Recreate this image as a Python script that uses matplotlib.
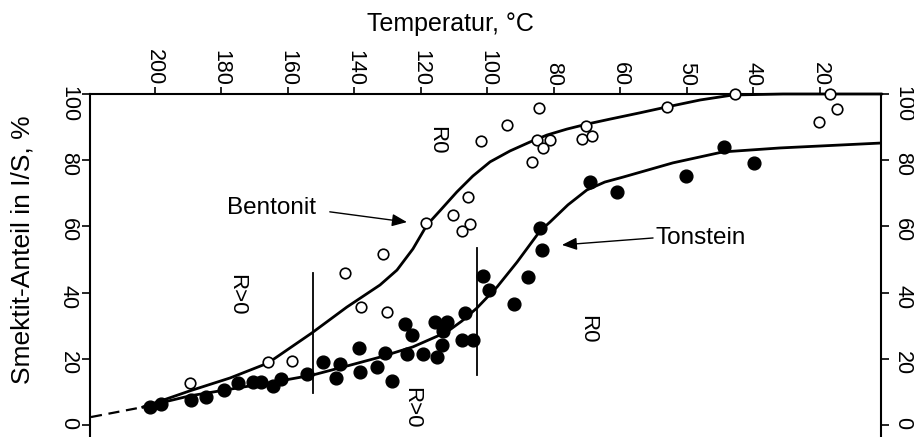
import numpy as np
import matplotlib
matplotlib.use("Agg")
import matplotlib.pyplot as plt
from matplotlib.scale import FuncScale

plt.rcParams['font.family'] = ['Liberation Sans', 'DejaVu Sans']

# Temperature axis: the labelled ticks are equally spaced (non-linear scale)
temp_ticks = [200, 180, 160, 140, 120, 100, 80, 60, 50, 40, 20]
pct_ticks = [0, 20, 40, 60, 80, 100]

# Bentonit (open circles): temperature in °C, smectite fraction in %
bent_temp = [189.5, 166.0, 158.8, 142.9, 138.0, 131.4, 130.2, 118.5, 110.4, 105.9,
             105.3, 107.7, 102.0, 94.1, 84.5, 86.6, 85.1, 81.2, 83.3, 70.4,
             71.6, 68.6, 53.0, 42.8, 17.0, 14.9, 20.3]
bent_pct = [12.7, 19.0, 19.3, 45.9, 35.6, 51.7, 34.1, 61.0, 63.4, 68.9,
            60.7, 58.6, 85.8, 90.6, 95.8, 79.5, 86.1, 86.1, 83.7, 90.3,
            86.4, 87.3, 96.1, 100.0, 100.0, 95.5, 91.5]

# Tonstein (filled circles)
ton_temp = [201.5, 198.2, 189.2, 184.7, 179.2, 175.0, 170.5, 168.1, 164.5, 162.1,
            154.3, 149.5, 145.6, 144.4, 138.3, 138.6, 133.2, 130.8, 128.7, 124.8,
            122.7, 124.2, 119.4, 115.8, 112.2, 113.4, 113.7, 115.2, 106.8, 107.7,
            104.4, 101.4, 99.5, 92.0, 87.8, 83.6, 84.2, 69.2, 61.1, 50.2,
            44.4, 39.8]
ton_pct = [5.4, 6.3, 7.6, 8.5, 10.6, 12.7, 13.0, 13.0, 11.8, 13.9,
           15.4, 19.0, 14.2, 18.4, 16.0, 23.3, 17.5, 21.8, 13.3, 30.5,
           27.2, 21.5, 21.5, 31.1, 31.1, 28.4, 24.2, 20.5, 33.8, 25.7,
           25.7, 45.0, 40.8, 36.6, 44.7, 52.9, 59.5, 73.4, 70.4, 75.2,
           84.0, 79.2]

# Fitted trend curves
bent_fit_temp = [203.6, 189.5, 177.4, 166.0, 152.8, 142.3, 132.3, 127.2, 122.4, 118.2,
                 114.3, 109.2, 104.4, 99.2, 93.2, 87.2, 82.1, 76.1, 70.1, 63.2,
                 57.1, 53.0, 48.0, 43.1, 31.1, 1.35]
bent_fit_pct = [5.4, 10.3, 14.2, 18.7, 27.8, 35.6, 42.3, 46.8, 53.2, 60.4,
                64.7, 70.4, 75.2, 79.5, 82.8, 85.5, 87.6, 89.4, 90.9, 92.4,
                94.3, 96.1, 98.2, 99.7, 100.0, 100.0]
ton_fit_temp = [203.6, 189.5, 171.4, 162.4, 152.5, 142.3, 132.3, 122.4, 112.2, 107.7,
                103.2, 97.1, 91.1, 84.2, 81.2, 75.8, 70.1, 64.7, 59.6, 52.1,
                44.6, 32.0, 1.35]
ton_fit_pct = [5.4, 8.8, 11.8, 13.3, 15.1, 17.8, 20.5, 23.6, 28.1, 31.4,
               35.3, 41.7, 49.2, 58.6, 61.3, 66.5, 71.0, 73.4, 74.9, 79.2,
               82.5, 83.7, 85.2]
# Extrapolated (dashed) start
dash_temp = [219.2, 203.6]
dash_pct = [2.4, 5.4]

# R0 / R>0 boundaries
bound_temp = [152.5, 103.2]
bound_lo = [9.7, 15.1]
bound_hi = [45.9, 53.5]

scale_temps = np.array([220] + temp_ticks + [0], float)
scale_pos = np.arange(-1, len(temp_ticks) + 1, dtype=float)


def to_pos(t):
    # monotonically increasing with temperature
    return -np.interp(t, scale_temps[::-1], scale_pos[::-1])


def to_temp(p):
    return np.interp(-np.asarray(p, float), scale_pos, scale_temps)


fig = plt.figure(figsize=(9.14, 4.37), dpi=100)
ax = fig.add_axes([90 / 914, 0.0, 791 / 914, 343 / 437])
ax.set_xscale(FuncScale(ax.xaxis, (to_pos, to_temp)))
ax.set_xlim(219.5, 1.66)
ax.set_ylim(-3.63, 100)

ax.plot(dash_temp, dash_pct, color='black', lw=1.6, ls=(0, (5, 3)))
ax.plot(bent_fit_temp, bent_fit_pct, color='black', lw=2.0, solid_capstyle='round',
        solid_joinstyle='round', clip_on=False)
ax.plot(ton_fit_temp, ton_fit_pct, color='black', lw=2.0, solid_joinstyle='round')

for t, lo, hi in zip(bound_temp, bound_lo, bound_hi):
    ax.plot([t, t], [lo, hi], color='black', lw=1.3)

ax.plot(bent_temp, bent_pct, ls='none', marker='o', ms=7.6, mfc='white',
        mec='black', mew=1.2, clip_on=False, zorder=4)
ax.plot(ton_temp, ton_pct, ls='none', marker='o', ms=9.2, mfc='black',
        mec='black', clip_on=False, zorder=4)

arrow = dict(arrowstyle='-|>,head_length=0.6,head_width=0.25', lw=1.0,
             color='black', mutation_scale=15, shrinkA=0, shrinkB=0)
ax.annotate('', xy=(124.2, 61.3), xytext=(147.4, 64.4), arrowprops=arrow)
ax.annotate('', xy=(77.6, 54.4), xytext=(55.1, 56.5), arrowprops=arrow)

ax.text(164.8, 65.6, 'Bentonit', fontsize=17.5, ha='center', va='center')
ax.text(48.0, 56.5, 'Tonstein', fontsize=17.5, ha='center', va='center')
ax.text(115.2, 86.1, 'R0', fontsize=16, rotation=-90, ha='center', va='center')
ax.text(69.8, 29.0, 'R0', fontsize=16, rotation=-90, ha='center', va='center')
ax.text(175.3, 39.3, 'R>0', fontsize=16, rotation=-90, ha='center', va='center')
ax.text(122.7, 5.1, 'R>0', fontsize=16, rotation=-90, ha='center', va='center')

ax.xaxis.tick_top()
ax.set_xticks(temp_ticks)
ax.set_xticklabels([str(t) for t in temp_ticks])
ax.set_yticks(pct_ticks)
ax.set_yticklabels([str(v) for v in pct_ticks])
ax.tick_params(axis='x', which='both', top=True, bottom=False, direction='out',
               length=5, width=1.2, labelsize=15.5, labelrotation=-90, pad=1)
ax.tick_params(axis='y', which='both', left=True, right=True, labelleft=True,
               labelright=True, direction='out', length=6, width=1.2,
               labelsize=15.5, labelrotation=-90, pad=2)
ax.xaxis.set_minor_locator(matplotlib.ticker.NullLocator())
ax.spines['bottom'].set_visible(False)
for s in ('top', 'left', 'right'):
    ax.spines[s].set_linewidth(1.5)

fig.text(450 / 914, 1 - 24 / 437, 'Temperatur, °C', fontsize=18,
         ha='center', va='center')
fig.text(23 / 914, 1 - 250 / 437, 'Smektit-Anteil in I/S, %', fontsize=19,
         rotation=90, ha='center', va='center')

fig.savefig('out.png', dpi=100)
